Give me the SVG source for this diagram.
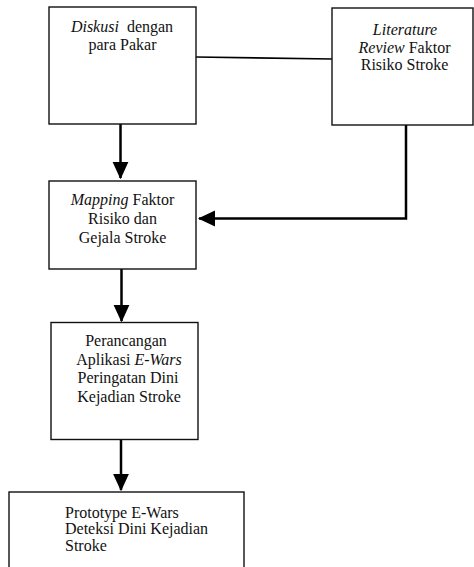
<svg xmlns="http://www.w3.org/2000/svg" width="474" height="567" viewBox="0 0 474 567">
<style>
.box{fill:#fff;stroke:#111;stroke-width:1.4}
text{font-family:"Times New Roman","Liberation Serif",Tinos,"DejaVu Serif",serif;font-size:16px;fill:#111}
.c{text-anchor:middle}
.i{font-style:italic}
.ln{fill:none;stroke:#000;stroke-width:2.5}
.thin{fill:none;stroke:#000;stroke-width:1.6}
</style>
<defs>
<marker id="ah" markerWidth="7" markerHeight="7" refX="6.5" refY="3.5" orient="auto" markerUnits="strokeWidth">
<path d="M0,0.3 L7,3.5 L0,6.7 Z" fill="#000"/>
</marker>
</defs>
<rect width="474" height="567" fill="#fff"/>
<g id="connectors">
<line class="thin" x1="196" y1="57" x2="332" y2="59"/>
<line class="ln" x1="120.5" y1="124" x2="120.5" y2="178" marker-end="url(#ah)"/>
<polyline class="ln" points="406,125 406,218.5 199,218.5" marker-end="url(#ah)"/>
<line class="ln" x1="121.5" y1="269" x2="121.5" y2="321" marker-end="url(#ah)"/>
<line class="ln" x1="121" y1="439" x2="121" y2="490" marker-end="url(#ah)"/>
</g>
<g id="n1">
<rect class="box" x="49" y="7" width="147" height="117"/>
<text class="c" x="122" y="31.5" xml:space="preserve"><tspan class="i">Diskusi</tspan>  dengan</text>
<text class="c" x="122.5" y="49.5">para Pakar</text>
</g>
<g id="n2">
<rect class="box" x="332" y="8" width="141" height="117"/>
<text class="c i" x="405" y="34.5">Literature</text>
<text class="c" x="404.5" y="52.5"><tspan class="i">Review</tspan> Faktor</text>
<text class="c" x="404.5" y="69.5">Risiko Stroke</text>
</g>
<g id="n3">
<rect class="box" x="49" y="181" width="147" height="88"/>
<text class="c" x="122.5" y="205"><tspan class="i">Mapping</tspan> Faktor</text>
<text class="c" x="122.5" y="223.5">Risiko dan</text>
<text class="c" x="122.5" y="242.5">Gejala Stroke</text>
</g>
<g id="n4">
<rect class="box" x="51" y="322.5" width="147" height="117"/>
<text class="c" x="126" y="346">Perancangan</text>
<text class="c" x="129" y="365">Aplikasi <tspan class="i">E-Wars</tspan></text>
<text class="c" x="128" y="383">Peringatan Dini</text>
<text class="c" x="129" y="401.5">Kejadian Stroke</text>
</g>
<g id="n5">
<rect class="box" x="9" y="492" width="235" height="90"/>
<text x="65" y="517.5">Prototype E-Wars</text>
<text x="65" y="534">Deteksi Dini Kejadian</text>
<text x="65" y="550.5">Stroke</text>
</g>
</svg>
